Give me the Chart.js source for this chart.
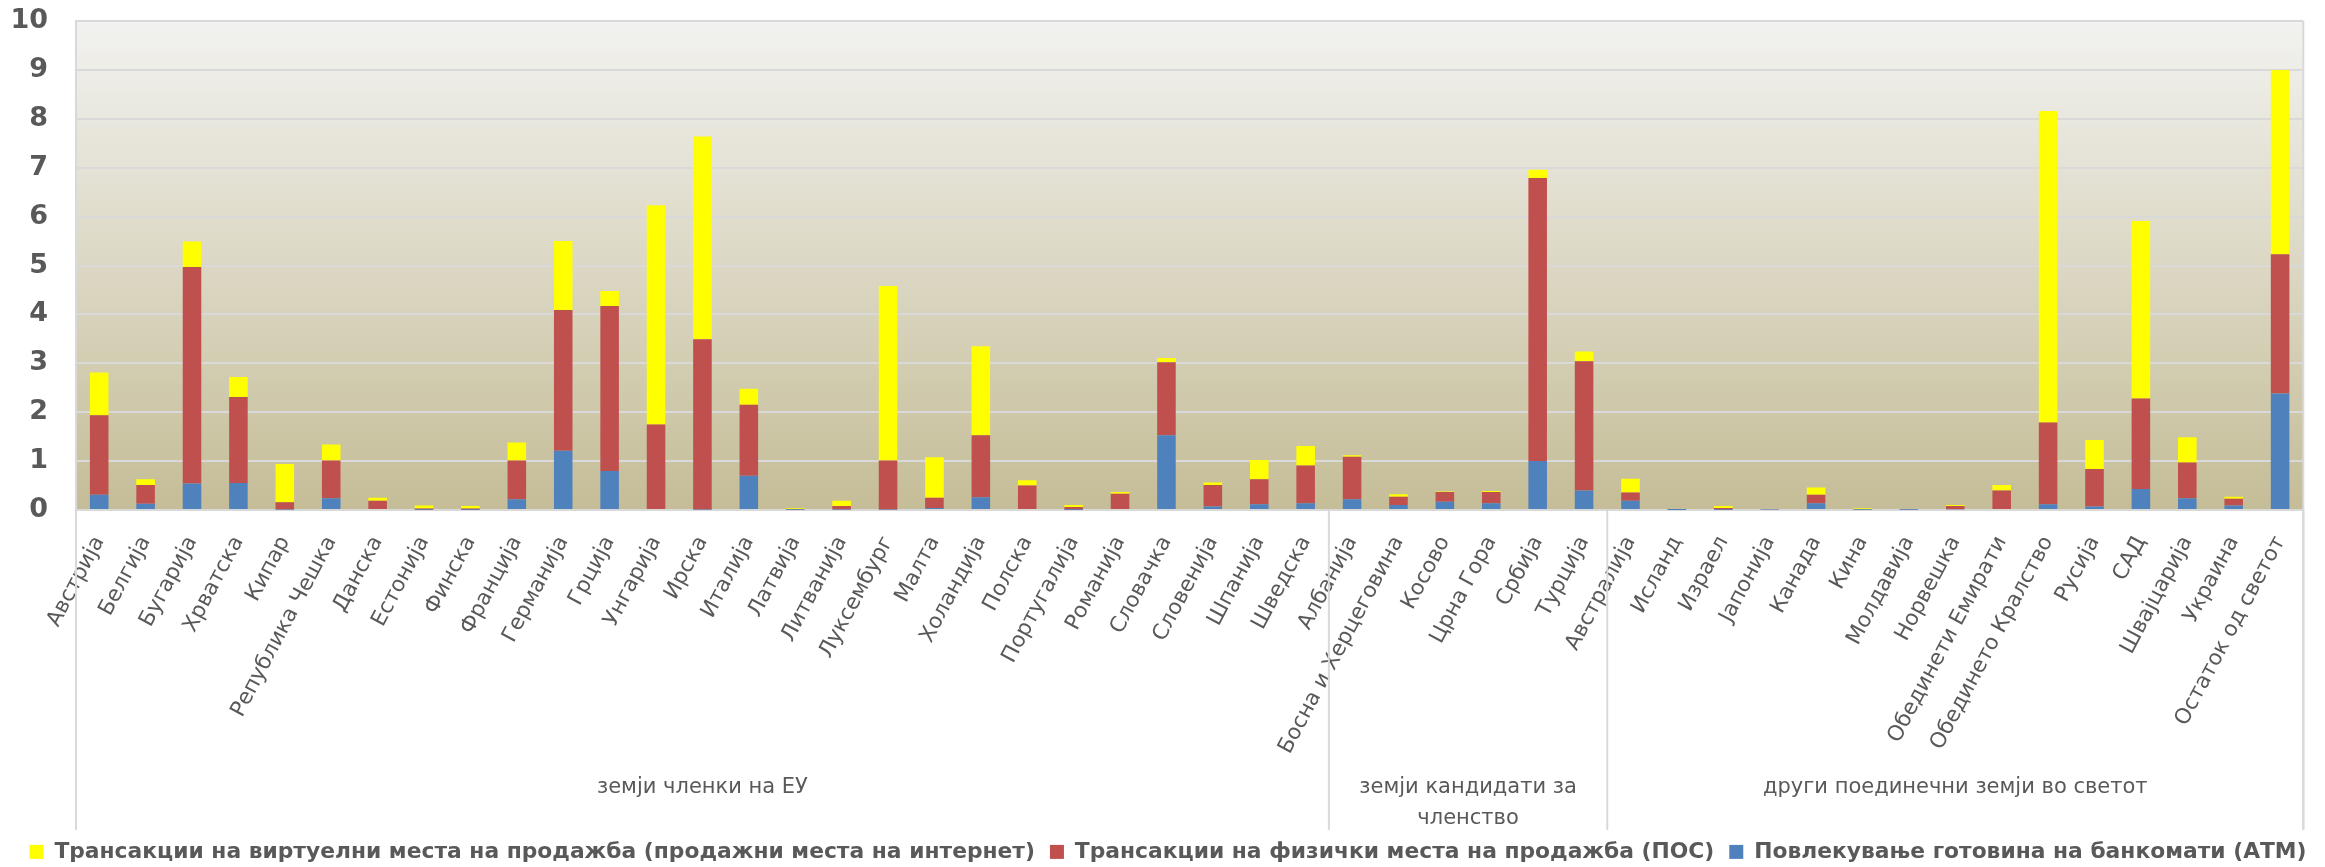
<!DOCTYPE html>
<html>
<head>
<meta charset="utf-8">
<script src="https://cdn.jsdelivr.net/npm/chart.js@4.4.1/dist/chart.umd.min.js"></script>
<style>
  html, body { margin: 0; padding: 0; background: #ffffff; }
  #wrap { width: 2325px; height: 867px; position: relative; }
</style>
</head>
<body>
<div id="wrap"><canvas id="c"></canvas></div>
<script>
// ---- data ----
const categories = [
  'Австрија','Белгија','Бугарија','Хрватска','Кипар','Република Чешка','Данска','Естонија','Финска',
  'Франција','Германија','Грција','Унгарија','Ирска','Италија','Латвија','Литванија','Луксембург','Малта',
  'Холандија','Полска','Португалија','Романија','Словачка','Словенија','Шпанија','Шведска',
  'Албанија','Босна и Херцеговина','Косово','Црна Гора','Србија','Турција',
  'Австралија','Исланд','Израел','Јапонија','Канада','Кина','Молдавија','Норвешка','Обединети Емирати',
  'Обединето Кралство','Русија','САД','Швајцарија','Украина','Остаток од светот'
];
const atmValues = [
  0.31,0.13,0.54,0.55,0.01,0.24,0.02,0.005,0.005,
  0.22,1.21,0.80,0.02,0.01,0.70,0.005,0.01,0.01,0.04,
  0.26,0.02,0.005,0.02,1.53,0.07,0.12,0.14,
  0.22,0.10,0.17,0.14,1.00,0.40,
  0.19,0.002,0.005,0.01,0.14,0.005,0.003,0.015,0.02,0.12,0.07,0.43,0.24,0.09,2.38
];
const posValues = [
  1.63,0.38,4.43,1.76,0.15,0.77,0.17,0.025,0.025,
  0.79,2.88,3.37,1.73,3.48,1.45,0.01,0.07,1.00,0.21,
  1.27,0.48,0.055,0.31,1.49,0.44,0.51,0.77,
  0.87,0.17,0.20,0.23,5.79,2.64,
  0.17,0.002,0.035,0.005,0.17,0.005,0.005,0.065,0.38,1.67,0.77,1.85,0.73,0.14,2.85
];
const internetValues = [
  0.87,0.12,0.52,0.41,0.78,0.33,0.06,0.06,0.05,
  0.37,1.41,0.31,4.48,4.15,0.33,0.02,0.11,3.57,0.83,
  1.82,0.11,0.04,0.04,0.09,0.05,0.39,0.40,
  0.03,0.05,0.01,0.02,0.17,0.20,
  0.28,0.006,0.04,0,0.15,0.025,0.002,0.02,0.11,6.37,0.59,3.63,0.52,0.04,3.77
];
const seriesNames = [
  'Повлекување готовина на банкомати (АТМ)',
  'Трансакции на физички места на продажба (ПОС)',
  'Трансакции на виртуелни места на продажба (продажни места на интернет)'
];
const groupNames = [['земји членки на ЕУ'], ['земји кандидати за', 'членство'], ['други поединечни земји во светот']];
const groupSizes = [27, 6, 15];
const yTicks = [0,1,2,3,4,5,6,7,8,9,10];

// ---- styles ----
const TEXT = '#595959';
const GRID = '#d9d9d9';
Chart.defaults.font.family = '"DejaVu Sans", Verdana, sans-serif';
Chart.defaults.color = TEXT;

const bgPlugin = {
  id: 'bgGradient',
  beforeDraw(chart) {
    const {ctx, chartArea: a} = chart;
    const g = ctx.createLinearGradient(0, a.top, 0, a.bottom);
    g.addColorStop(0, '#f2f2f0');
    g.addColorStop(1, '#c5bd97');
    ctx.save();
    ctx.fillStyle = g;
    ctx.fillRect(a.left, a.top, a.right - a.left, a.bottom - a.top);
    ctx.restore();
  }
};

const groupPlugin = {
  id: 'groups',
  afterDraw(chart) {
    const {ctx, chartArea: a} = chart;
    const xs = chart.scales.x;
    const lineBottom = a.bottom + 320;
    ctx.save();
    ctx.strokeStyle = GRID;
    ctx.lineWidth = 2;
    ctx.beginPath();
    ctx.moveTo(a.right, a.top);
    ctx.lineTo(a.right, lineBottom);
    ctx.stroke();
    let start = 0;
    const bounds = [a.left];
    groupSizes.forEach((n, gi) => {
      const end = start + n - 1;
      const right = gi === groupSizes.length - 1 ? a.right
        : (xs.getPixelForValue(end) + xs.getPixelForValue(end + 1)) / 2;
      bounds.push(right);
      start += n;
    });
    bounds.forEach(bx => {
      ctx.beginPath();
      ctx.moveTo(bx, a.bottom);
      ctx.lineTo(bx, lineBottom);
      ctx.stroke();
    });
    ctx.fillStyle = TEXT;
    ctx.font = '21px "DejaVu Sans", Verdana, sans-serif';
    ctx.textAlign = 'center';
    ctx.textBaseline = 'middle';
    groupNames.forEach((lines, gi) => {
      const cx = (bounds[gi] + bounds[gi + 1]) / 2;
      lines.forEach((t, li) => {
        ctx.fillText(t, cx, a.bottom + 278 + li * 31);
      });
    });
    ctx.restore();
  }
};

new Chart(document.getElementById('c'), {
  type: 'bar',
  data: {
    labels: categories,
    datasets: [
      { label: seriesNames[0], data: atmValues, backgroundColor: '#4f81bd', borderWidth: 0 },
      { label: seriesNames[1], data: posValues, backgroundColor: '#c0504d', borderWidth: 0 },
      { label: seriesNames[2], data: internetValues, backgroundColor: '#ffff00', borderWidth: 0 }
    ]
  },
  options: {
    responsive: true,
    maintainAspectRatio: false,
    animation: false,
    layout: { padding: { left: 11, right: 0, top: 21, bottom: 0 } },
    datasets: { bar: { categoryPercentage: 1.0, barPercentage: 0.4 } },
    scales: {
      x: {
        stacked: true,
        grid: { display: false, drawTicks: false },
        border: { display: true, color: GRID, width: 2 },
        ticks: {
          autoSkip: false, minRotation: 62, maxRotation: 62, padding: 22,
          color: TEXT, font: { size: 21.5 }
        },
        afterFit(s) { s.height = 316; }
      },
      y: {
        stacked: true, min: 0, max: 10,
        grid: { color: GRID, lineWidth: 2, drawTicks: false },
        border: { display: true, color: GRID, width: 2 },
        ticks: {
          stepSize: 1, padding: 28, color: TEXT,
          font: { size: 27, weight: 'bold' },
          callback: (v) => yTicks.includes(v) ? String(v) : ''
        },
        afterFit(s) { s.width = 65; s.paddingTop = 17; s.paddingBottom = 17; }
      },
      yRightSpace: {
        position: 'right', display: true,
        grid: { display: false, drawTicks: false },
        border: { display: false },
        ticks: { display: false },
        afterFit(s) { s.width = 11; s.paddingTop = 0; s.paddingBottom = 0; }
      }
    },
    plugins: {
      legend: {
        position: 'bottom',
        reverse: true,
        maxHeight: 41,
        labels: {
          boxWidth: 14, boxHeight: 14, padding: 15,
          color: TEXT, font: { size: 21.8, weight: 'bold' }
        }
      },
      tooltip: { enabled: false }
    }
  },
  plugins: [bgPlugin, groupPlugin]
});
</script>
</body>
</html>
